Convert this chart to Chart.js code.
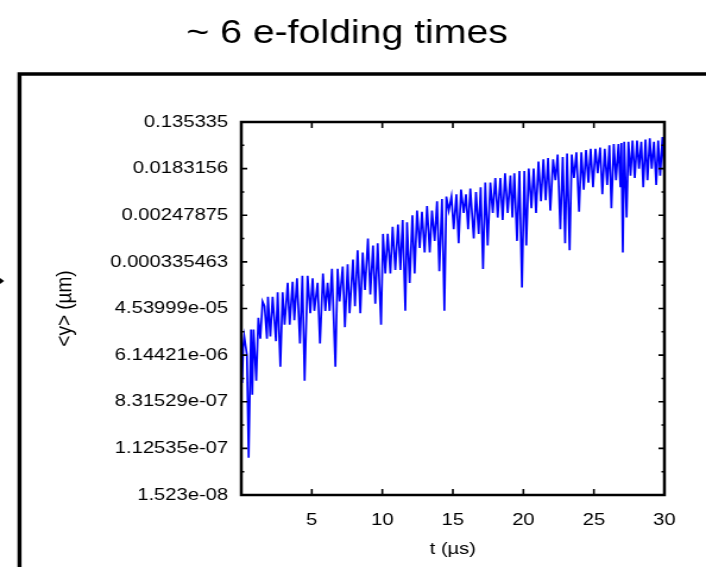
<!DOCTYPE html>
<html>
<head>
<meta charset="utf-8">
<script src="https://cdn.jsdelivr.net/npm/chart.js@4.4.1/dist/chart.umd.min.js"></script>
<style>
  html, body { margin: 0; padding: 0; background: #fff; }
</style>
</head>
<body>
<!-- the source figure is stretched sideways, so the canvas is too -->
<canvas id="c" width="594" height="567" style="display:block;width:706px;height:567px"></canvas>
<script>
const titleText = '~ 6 e-folding times';

// time in microseconds
const tUs = [
  0.00, 0.06, 0.13, 0.21, 0.40, 0.52, 0.69, 0.78, 0.87, 1.06,
  1.21, 1.35, 1.51, 1.65, 1.82, 1.89, 2.06, 2.22, 2.46, 2.58,
  2.77, 2.93, 3.07, 3.29, 3.43, 3.64, 3.76, 3.95, 4.16, 4.33,
  4.49, 4.70, 4.89, 5.06, 5.18, 5.41, 5.58, 5.79, 5.96, 6.12,
  6.26, 6.43, 6.67, 6.83, 6.97, 7.19, 7.35, 7.54, 7.68, 7.92,
  8.06, 8.25, 8.44, 8.61, 8.77, 8.98, 9.15, 9.34, 9.50, 9.67,
  9.91, 10.05, 10.21, 10.38, 10.57, 10.73, 10.92, 11.11, 11.28, 11.44,
  11.63, 11.75, 11.94, 12.13, 12.29, 12.46, 12.65, 12.81, 13.00, 13.17,
  13.36, 13.52, 13.71, 13.88, 14.04, 14.23, 14.40, 14.54, 14.71, 14.90,
  15.06, 15.25, 15.41, 15.58, 15.77, 15.93, 16.08, 16.24, 16.48, 16.64,
  16.83, 16.97, 17.14, 17.30, 17.47, 17.66, 17.83, 18.01, 18.18, 18.37,
  18.53, 18.70, 18.89, 19.08, 19.22, 19.36, 19.55, 19.72, 19.90, 20.07,
  20.21, 20.38, 20.57, 20.73, 20.90, 21.07, 21.25, 21.42, 21.58, 21.75,
  21.91, 22.11, 22.27, 22.43, 22.62, 22.79, 22.96, 23.10, 23.28, 23.43,
  23.59, 23.76, 23.95, 24.11, 24.28, 24.44, 24.61, 24.77, 24.94, 25.11,
  25.27, 25.44, 25.60, 25.77, 25.94, 26.10, 26.24, 26.41, 26.57, 26.74,
  26.88, 26.95, 27.05, 27.15, 27.32, 27.45, 27.60, 27.74, 27.90, 28.06,
  28.20, 28.36, 28.50, 28.66, 28.80, 28.96, 29.10, 29.26, 29.42, 29.56,
  29.70, 29.86, 30.00
];

const lnY = [
  -12.0, -13.2, -11.7, -11.2, -12.0, -16.4, -10.9, -13.7, -10.9, -13.1,
  -10.4, -11.3, -9.7, -9.9, -11.3, -9.5, -11.2, -9.5, -11.4, -9.3,
  -12.5, -9.3, -10.7, -8.9, -10.7, -8.85, -10.5, -8.7, -11.5, -8.6,
  -13.1, -8.6, -10.2, -8.7, -10.1, -8.9, -11.5, -8.5, -10.1, -8.9,
  -10.1, -8.3, -12.5, -8.3, -9.7, -8.2, -10.8, -8.1, -10.2, -7.9,
  -9.9, -7.5, -10.2, -7.6, -9.2, -7.0, -9.4, -7.3, -9.8, -7.2,
  -10.7, -6.8, -8.5, -6.8, -8.5, -6.5, -8.35, -6.4, -8.35, -6.2,
  -10.1, -6.3, -8.9, -6.0, -8.5, -5.8, -7.4, -5.85, -7.6, -5.6,
  -7.6, -5.8, -7.1, -5.4, -8.4, -5.3, -10.1, -5.2, -5.8, -5.2,
  -6.6, -5.1, -7.2, -4.9, -5.9, -5.1, -6.6, -4.85, -7.0, -5.0,
  -6.8, -4.8, -8.3, -4.6, -7.3, -4.6, -5.9, -4.4, -6.1, -4.4,
  -6.2, -4.2, -5.9, -4.3, -6.1, -4.2, -7.1, -4.1, -9.1, -4.1,
  -7.3, -4.0, -5.7, -4.0, -5.9, -3.7, -5.4, -3.6, -5.35, -3.55,
  -5.8, -3.6, -4.5, -3.4, -6.6, -3.5, -7.2, -3.35, -7.5, -3.4,
  -4.4, -3.3, -5.85, -3.3, -4.9, -3.2, -4.6, -3.15, -4.8, -3.15,
  -4.2, -3.1, -5.1, -3.15, -4.7, -3.0, -5.7, -2.95, -4.5, -2.95,
  -4.8, -2.9, -7.6, -2.85, -6.1, -2.85, -4.3, -2.8, -4.4, -2.8,
  -4.0, -2.85, -4.8, -2.75, -4.5, -2.7, -4.0, -2.85, -4.7, -2.8,
  -4.3, -2.65, -4.3
];

const xTickValues = [5, 10, 15, 20, 25, 30];
const yTickValues = [1.523e-08, 1.12535e-07, 8.31529e-07, 6.14421e-06, 4.53999e-05,
                     0.000335463, 0.00247875, 0.0183156, 0.135335];
const yTickLabels = ['1.523e-08', '1.12535e-07', '8.31529e-07', '6.14421e-06', '4.53999e-05',
                     '0.000335463', '0.00247875', '0.0183156', '0.135335'];
const yMinorTicks = [4.13994e-08, 3.05902e-07, 2.26033e-06, 1.67017e-05,
                     0.00012341, 0.000911882, 0.00673795, 0.0497871];

const FONT = '"Liberation Sans", Arial, Helvetica, sans-serif';

// page decorations plus gnuplot style inward ticks and border
const frame = {
  id: 'frame',
  beforeDraw(chart) {
    const ctx = chart.ctx;
    ctx.save();
    ctx.fillStyle = '#fff';
    ctx.fillRect(0, 0, chart.width, chart.height);
    ctx.fillStyle = '#000';
    ctx.font = '33px ' + FONT;
    ctx.textAlign = 'center';
    ctx.textBaseline = 'alphabetic';
    ctx.fillText(titleText, 292, 43);
    ctx.strokeStyle = '#000';
    ctx.lineWidth = 3.4;
    ctx.beginPath();
    ctx.moveTo(16.4, chart.height + 10);
    ctx.lineTo(16.4, 74);
    ctx.lineTo(chart.width + 10, 74);
    ctx.stroke();
    ctx.beginPath();
    ctx.moveTo(0, 278);
    ctx.lineTo(3.5, 281);
    ctx.lineTo(0, 284);
    ctx.fill();
    ctx.restore();
  },
  afterDatasetsDraw(chart) {
    const {ctx, chartArea: a, scales: {x, y}} = chart;
    ctx.save();
    ctx.strokeStyle = '#000';
    ctx.lineWidth = 1.6;
    ctx.beginPath();
    xTickValues.forEach(v => {
      const px = x.getPixelForValue(v);
      ctx.moveTo(px, a.bottom); ctx.lineTo(px, a.bottom - 6);
      ctx.moveTo(px, a.top); ctx.lineTo(px, a.top + 6);
    });
    yTickValues.forEach(v => {
      const py = y.getPixelForValue(v);
      ctx.moveTo(a.left, py); ctx.lineTo(a.left + 5, py);
      ctx.moveTo(a.right, py); ctx.lineTo(a.right - 5, py);
    });
    yMinorTicks.forEach(v => {
      const py = y.getPixelForValue(v);
      ctx.moveTo(a.left, py); ctx.lineTo(a.left + 2.5, py);
      ctx.moveTo(a.right, py); ctx.lineTo(a.right - 2.5, py);
    });
    ctx.stroke();
    ctx.lineWidth = 2.5;
    ctx.strokeRect(a.left, a.top, a.right - a.left, a.bottom - a.top);
    ctx.restore();
  }
};

new Chart(document.getElementById('c'), {
  type: 'line',
  data: {
    datasets: [{
      data: tUs.map((t, i) => ({x: t, y: Math.exp(lnY[i])})),
      borderColor: '#0000ff',
      borderWidth: 1.7,
      pointRadius: 0,
      tension: 0,
      fill: false
    }]
  },
  options: {
    responsive: false,
    animation: false,
    devicePixelRatio: 1,
    layout: { padding: { left: 0, top: 122, right: 35, bottom: 0 } },
    plugins: { legend: { display: false }, tooltip: { enabled: false } },
    scales: {
      x: {
        type: 'linear',
        min: 0,
        max: 30,
        afterBuildTicks: s => { s.ticks = xTickValues.map(v => ({value: v})); },
        afterFit: s => { s.height = 72; },
        grid: { display: false, drawTicks: false },
        border: { display: false },
        ticks: { padding: 15, color: '#000', font: { family: FONT, size: 17 }, maxRotation: 0 },
        title: { display: true, text: 't (\u00b5s)', color: '#000',
                 font: { family: FONT, size: 17 }, padding: { top: 0, bottom: 7 } }
      },
      y: {
        type: 'logarithmic',
        min: yTickValues[0],
        max: yTickValues[yTickValues.length - 1],
        afterBuildTicks: s => { s.ticks = yTickValues.map(v => ({value: v})); },
        afterFit: s => { s.width = 203; },
        grid: { display: false, drawTicks: false },
        border: { display: false },
        ticks: { padding: 11, color: '#000', autoSkip: false,
                 font: { family: FONT, size: 17 },
                 callback: (v, i) => yTickLabels[i] },
        title: { display: true, text: '<y> (\u00b5m)', color: '#000',
                 font: { family: FONT, size: 19 }, padding: { top: 43, bottom: 0 } }
      }
    }
  },
  plugins: [frame]
});
</script>
</body>
</html>
